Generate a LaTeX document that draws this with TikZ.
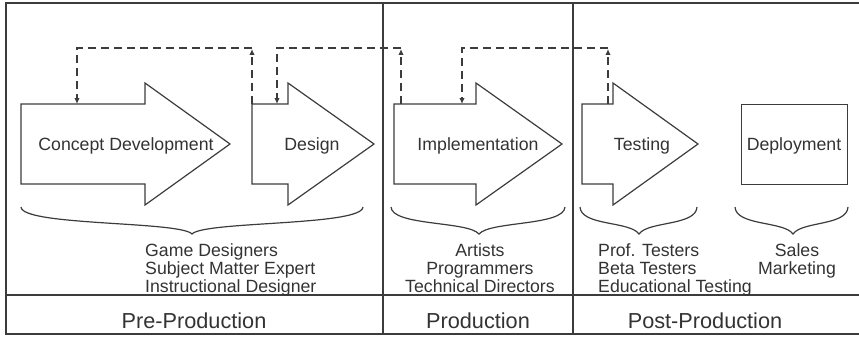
\documentclass[tikz,border=0pt]{standalone}
\usepackage{fontspec}
\setmainfont{Liberation Sans}
\usetikzlibrary{arrows.meta}
\definecolor{ink}{HTML}{333333}
\definecolor{ln}{HTML}{3C3C3C}
\tikzset{
  frame/.style={draw=ln, line width=1.8pt},
  shp/.style={draw=ln, line width=1.2pt, line join=miter},
  conn/.style={draw=ln, line width=1.5pt, dash pattern=on 8pt off 5pt},
  tipa/.style={-{Latex[length=6pt,width=5.5pt]}},
  brc/.style={draw=ln, line width=1.2pt},
  lbl/.style={font=\fontsize{17.7}{18}\selectfont, text=ink, inner sep=0pt},
  big/.style={font=\fontsize{21.7}{22}\selectfont, text=ink, inner sep=0pt},
}
\begin{document}
\begin{tikzpicture}[x=1pt,y=-1pt]
\useasboundingbox (0,0) rectangle (859,337);
% frame
\draw[frame] (859,3) -- (6,3) -- (6,334) -- (859,334);
\draw[frame] (6,295) -- (859,295);
\draw[frame] (383,3) -- (383,334);
\draw[frame] (573,3) -- (573,334);

% big arrows
\draw[shp] (21,104) -- (145,104) -- (145,83) -- (230,144) -- (145,205) -- (145,184) -- (21,184) -- cycle;
\draw[shp] (252,104) -- (288,104) -- (288,83) -- (374,144) -- (288,205) -- (288,184) -- (252,184) -- cycle;
\draw[shp] (394,104) -- (476,104) -- (476,83) -- (562,144) -- (476,205) -- (476,184) -- (394,184) -- cycle;
\draw[shp] (582,104) -- (613,104) -- (613,83) -- (698,144) -- (613,205) -- (613,184) -- (582,184) -- cycle;
\node[lbl, anchor=base] (cd) at (126,150) {Concept Development};
\node[lbl, anchor=base] (ds) at (312,150) {Design};
\node[lbl, anchor=base] (im) at (478,150) {Implementation};
\node[lbl, anchor=base] (ts) at (642,150) {Testing};
\node[draw=ln, line width=1.0pt, minimum width=106pt, minimum height=80pt, inner sep=0pt] (dpbox) at (794,144) {};
\node[lbl, anchor=base] (dp) at (794,150) {Deployment};

% connector anchor points
\coordinate (cdA) at (77,104);
\coordinate (dsA) at (252,104);
\coordinate (dsB) at (277,104);
\coordinate (imA) at (401,104);
\coordinate (imB) at (462,104);
\coordinate (tsA) at (608,104);
\coordinate (k1) at (252,48);
\coordinate (k2) at (401,48);
\coordinate (k3) at (608,48);

\draw[conn, tipa, shorten >=1pt] (dsA) -- (k1);
\draw[conn, tipa] (k1) -| (cdA);
\draw[conn, tipa, shorten >=1pt] (imA) -- (k2);
\draw[conn, tipa] (k2) -| (dsB);
\draw[conn, tipa, shorten >=1pt] (tsA) -- (k3);
\draw[conn, tipa] (k3) -| (imB);

% braces
\draw[brc] (21,207) .. controls (22,226) and (180,221) .. (192,234) .. controls (204,221) and (362,226) .. (363,207);
\draw[brc] (391,207) .. controls (392,226) and (468,221) .. (479,234) .. controls (490,221) and (564,226) .. (565,207);
\draw[brc] (580,207) .. controls (581,226) and (630,221) .. (639,234) .. controls (648,221) and (696,226) .. (697,207);
\draw[brc] (735,207) .. controls (736,226) and (784,221) .. (793,234) .. controls (802,221) and (847,226) .. (848,207);

% role texts
\foreach \t [count=\i] in {Game Designers, Subject Matter Expert, Instructional Designer}
  \node[lbl, anchor=base west] (pre\i) at (145,{256+18*(\i-1)}) {\t};
\foreach \t [count=\i] in {Artists, Programmers, Technical Directors}
  \node[lbl, anchor=base] (pro\i) at (480,{256+18*(\i-1)}) {\t};
\foreach \t [count=\i] in {Prof. Testers, Beta Testers, Educational Testing}
  \node[lbl, anchor=base west] (pst\i) at (598,{256+18*(\i-1)}) {\t};
\foreach \t [count=\i] in {Sales, Marketing}
  \node[lbl, anchor=base] (dep\i) at (797,{256+18*(\i-1)}) {\t};

% phase labels
\node[big, anchor=base] (ph1) at (194,328) {Pre-Production};
\node[big, anchor=base] (ph2) at (478,328) {Production};
\node[big, anchor=base] (ph3) at (705,328) {Post-Production};
\end{tikzpicture}
\end{document}
